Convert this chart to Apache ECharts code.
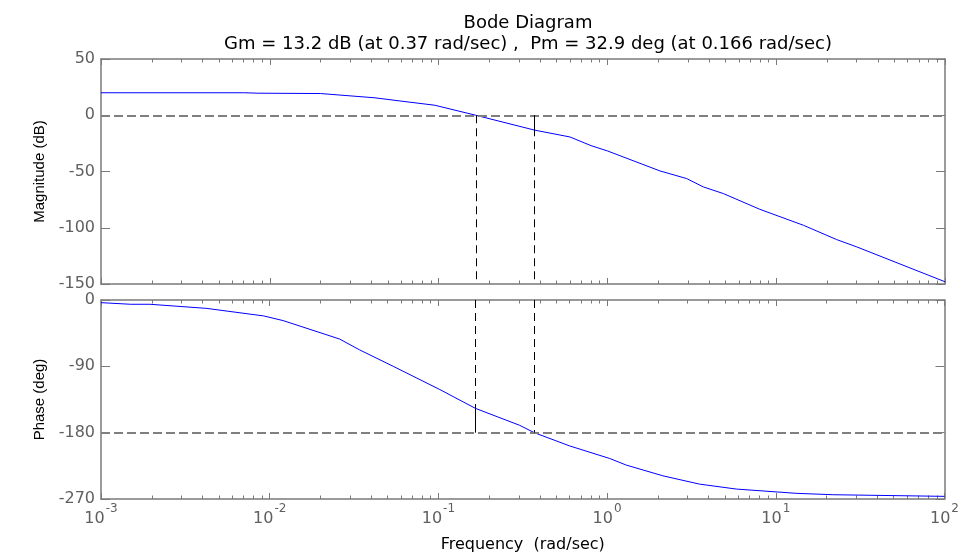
<!DOCTYPE html>
<html>
<head>
<meta charset="utf-8">
<script src="https://cdn.jsdelivr.net/npm/echarts@6/dist/echarts.min.js"></script>
<style>
  html, body { margin: 0; padding: 0; background: #fff; }
  #chart { width: 962px; height: 554px; }
</style>
</head>
<body>
<div id="chart"></div>
<script>
  // 幅频数据 (rad/sec, dB)
  var magFreq = [0.001, 0.0071, 0.0085, 0.02, 0.042, 0.059, 0.095, 0.166, 0.37, 0.6, 0.8, 1, 2.05, 2.95, 3.7, 4.86, 8, 14.5, 22.8, 30, 100]
  var magDb = [20, 20, 19.6, 19.3, 15.5, 12.7, 8.9, 0, -13.2, -19.3, -27, -31.7, -49.5, -56.3, -63.7, -69.6, -83.6, -97.8, -110.5, -117, -148]
  // 相频数据 (rad/sec, deg)
  var phaseFreq = [0.001, 0.0015, 0.00195, 0.0042, 0.0092, 0.012, 0.026, 0.034, 0.054, 0.102, 0.166, 0.303, 0.37, 0.6, 1.035, 1.3, 2.14, 3.53, 5.83, 13.2, 21.8, 100]
  var phaseDeg = [-3.6, -5.8, -5.8, -11.3, -21.6, -27.9, -53, -67.5, -90, -121.5, -147.1, -170, -180, -198, -215, -224, -238.5, -249.8, -256.5, -262.3, -264.2, -266.4]

  // 稳定裕度
  var gmDb = 13.2
  var gmFreq = 0.37
  var pmDeg = 32.9
  var pmFreq = 0.166

  // 坐标刻度
  var decades = [-3, -2, -1, 0, 1, 2]
  var magTicks = [-150, -100, -50, 0, 50]
  var phaseTicks = [-270, -180, -90, 0]

  var lg = function (v) { return Math.log10(v) }
  var minorTicks = []
  decades.slice(0, -1).forEach(function (d) {
    for (var k = 2; k <= 9; k++) minorTicks.push(d + Math.log10(k))
  })

  var pairs = function (xs, ys) {
    return xs.map(function (x, i) { return [lg(x), ys[i]] })
  }

  var axisGrey = '#7a7a7a'
  var labelGrey = '#5f5f5f'
  var wide = '"DejaVu Sans", Verdana, sans-serif'
  var narrow = 'Arial, "Liberation Sans", sans-serif'

  var xAxes = []
  var yAxes = []
  ;[0, 1].forEach(function (g) {
    var showLabel = g === 1
    // 下边主刻度
    xAxes.push({
      gridIndex: g, type: 'value', position: 'bottom',
      min: decades[0], max: decades[decades.length - 1], interval: 1,
      splitLine: { show: false },
      axisLine: { onZero: false, lineStyle: { color: axisGrey, width: 1.5 } },
      axisTick: { inside: true, length: 6, lineStyle: { color: axisGrey } },
      axisLabel: {
        show: showLabel, margin: 8, color: labelGrey, fontFamily: wide,
        formatter: function (v) { return '{b|10}{s|' + v + '}' },
        rich: {
          b: { fontSize: 16, color: labelGrey, fontFamily: wide, lineHeight: 20, verticalAlign: 'bottom' },
          s: { fontSize: 12, color: labelGrey, fontFamily: wide, lineHeight: 20, verticalAlign: 'bottom', padding: [0, 0, 12, 1] }
        }
      },
      name: showLabel ? 'Frequency  (rad/sec)' : '',
      nameLocation: 'middle', nameGap: 38,
      nameTextStyle: { color: '#000', fontSize: 16, fontFamily: wide }
    })
    // 下边次刻度
    xAxes.push({
      gridIndex: g, type: 'value', position: 'bottom',
      min: decades[0], max: decades[decades.length - 1],
      splitLine: { show: false }, axisLine: { show: false, onZero: false }, axisLabel: { show: false },
      axisTick: { inside: true, length: 3.5, customValues: minorTicks, lineStyle: { color: axisGrey } }
    })
    // 上边主刻度
    xAxes.push({
      gridIndex: g, type: 'value', position: 'top',
      min: decades[0], max: decades[decades.length - 1], interval: 1,
      splitLine: { show: false }, axisLabel: { show: false },
      axisLine: { onZero: false, lineStyle: { color: axisGrey, width: 1.5 } },
      axisTick: { inside: true, length: 6, lineStyle: { color: axisGrey } }
    })
    // 上边次刻度
    xAxes.push({
      gridIndex: g, type: 'value', position: 'top',
      min: decades[0], max: decades[decades.length - 1],
      splitLine: { show: false }, axisLine: { show: false, onZero: false }, axisLabel: { show: false },
      axisTick: { inside: true, length: 3.5, customValues: minorTicks, lineStyle: { color: axisGrey } }
    })

    var ticks = g === 0 ? magTicks : phaseTicks
    var yBase = {
      gridIndex: g, type: 'value',
      min: ticks[0], max: ticks[ticks.length - 1], interval: ticks[1] - ticks[0],
      splitLine: { show: false },
      axisLine: { show: true, onZero: false, lineStyle: { color: axisGrey, width: 1.5 } },
      axisTick: { show: true, inside: true, length: 9, lineStyle: { color: axisGrey } }
    }
    yAxes.push(Object.assign({}, yBase, {
      position: 'left',
      axisLabel: { color: labelGrey, fontSize: 16, fontFamily: wide, margin: 6 },
      name: g === 0 ? 'Magnitude (dB)' : 'Phase (deg)',
      nameLocation: 'middle', nameRotate: 90, nameGap: 52,
      nameTextStyle: { color: '#000', fontSize: 15, fontFamily: narrow }
    }))
    yAxes.push(Object.assign({}, yBase, {
      position: 'right',
      axisLabel: { show: false }
    }))
  })

  var dashedBlack = { color: '#000', width: 1, type: [8, 5] }
  var solidBlack = { color: '#000', width: 1, type: 'solid' }
  var dashedGrey = { color: '#7f7f7f', width: 2, type: [9, 4] }

  var option = {
    animation: false,
    backgroundColor: '#fff',
    title: [{
      text: 'Bode Diagram', left: 523, top: 9, textAlign: 'center',
      textStyle: { fontSize: 18, fontWeight: 'normal', color: '#000', fontFamily: wide }
    }, {
      text: 'Gm = ' + gmDb + ' dB (at ' + gmFreq + ' rad/sec) ,  Pm = ' + pmDeg + ' deg (at ' + pmFreq + ' rad/sec)',
      left: 523, top: 30, textAlign: 'center',
      textStyle: { fontSize: 18, fontWeight: 'normal', color: '#000', fontFamily: wide }
    }],
    grid: [
      { left: 101, right: 17, top: 59, height: 225 },
      { left: 101, right: 17, top: 300, height: 200 }
    ],
    xAxis: xAxes,
    yAxis: yAxes,
    series: [{
      type: 'line', xAxisIndex: 0, yAxisIndex: 0,
      data: pairs(magFreq, magDb),
      symbol: 'none', lineStyle: { color: '#0000ff', width: 1 },
      markLine: {
        silent: true, symbol: 'none', label: { show: false }, animation: false,
        data: [
          { yAxis: 0, lineStyle: dashedGrey },
          [{ coord: [lg(pmFreq), 0], lineStyle: dashedBlack }, { coord: [lg(pmFreq), magTicks[0]] }],
          [{ coord: [lg(gmFreq), 0], lineStyle: dashedBlack }, { coord: [lg(gmFreq), magTicks[0]] }],
          [{ coord: [lg(gmFreq), 0], lineStyle: solidBlack }, { coord: [lg(gmFreq), -gmDb] }]
        ]
      },
      z: 3
    }, {
      type: 'line', xAxisIndex: 4, yAxisIndex: 2,
      data: pairs(phaseFreq, phaseDeg),
      symbol: 'none', lineStyle: { color: '#0000ff', width: 1 },
      markLine: {
        silent: true, symbol: 'none', label: { show: false }, animation: false,
        data: [
          { yAxis: -180, lineStyle: dashedGrey },
          [{ coord: [lg(pmFreq), 0], lineStyle: dashedBlack }, { coord: [lg(pmFreq), -180 + pmDeg] }],
          [{ coord: [lg(pmFreq), -180 + pmDeg], lineStyle: solidBlack }, { coord: [lg(pmFreq), -180] }],
          [{ coord: [lg(gmFreq), 0], lineStyle: dashedBlack }, { coord: [lg(gmFreq), -180] }]
        ]
      },
      z: 3
    }]
  }

  var chart = echarts.init(document.getElementById('chart'))
  chart.setOption(option)
</script>
</body>
</html>
